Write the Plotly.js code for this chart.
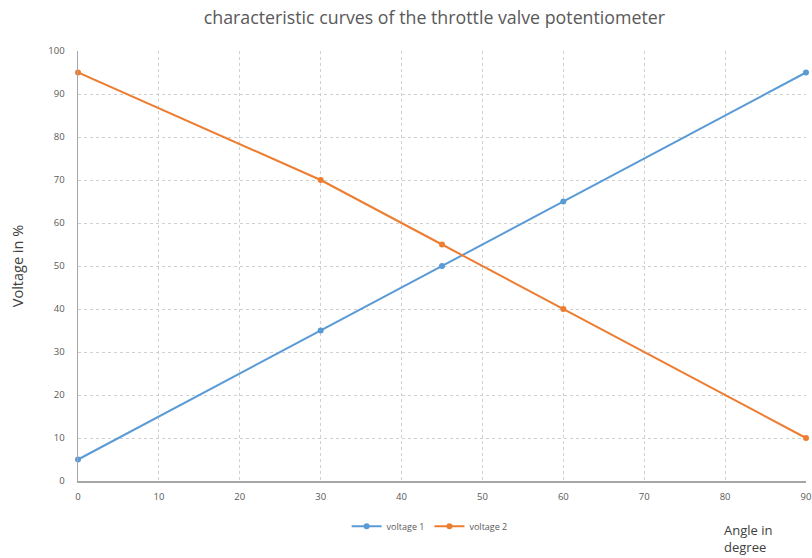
<!DOCTYPE html>
<html>
<head>
<meta charset="utf-8">
<script src="https://cdn.plot.ly/plotly-3.0.1.min.js"></script>
<style>html,body{margin:0;padding:0;background:#fff;}#chart{width:812px;height:558px;}</style>
</head>
<body>
<div id="chart"></div>
<script>
const angles = [0, 30, 45, 60, 90];
const voltage1 = [5, 35, 50, 65, 95];
const voltage2 = [95, 70, 55, 40, 10];
const xTicks = [0, 10, 20, 30, 40, 50, 60, 70, 80, 90];
const yTicks = [0, 10, 20, 30, 40, 50, 60, 70, 80, 90, 100];

const traces = [
  {x: angles, y: voltage1, name: 'voltage 1', mode: 'lines+markers', cliponaxis: false,
   line: {color: '#5B9BD5', width: 2}, marker: {color: '#5B9BD5', size: 6}},
  {x: angles, y: voltage2, name: 'voltage 2', mode: 'lines+markers', cliponaxis: false,
   line: {color: '#ED7D31', width: 2}, marker: {color: '#ED7D31', size: 6}}
];

const layout = {
  width: 812, height: 558,
  margin: {l: 78, r: 6, t: 51, b: 77},
  paper_bgcolor: '#fff', plot_bgcolor: '#fff',
  font: {family: 'Open Sans, sans-serif', color: '#595959'},
  title: {text: 'characteristic curves of the throttle valve potentiometer',
          font: {size: 17.8, color: '#595959'}, x: 0.535, xanchor: 'center', y: 0.968, yanchor: 'middle'},
  xaxis: {range: [0, 90], tickvals: xTicks, ticktext: xTicks.map(String),
          showgrid: true, gridcolor: '#d0d0d0', griddash: 'dot', gridwidth: 1,
          showline: true, linecolor: '#a6a6a6', linewidth: 1.5, zeroline: false,
          ticks: '', tickfont: {size: 9.5, color: '#595959'}, ticklabelstandoff: 6},
  yaxis: {range: [0, 100], tickvals: yTicks, ticktext: yTicks.map(String),
          showgrid: true, gridcolor: '#d0d0d0', griddash: 'dot', gridwidth: 1,
          showline: true, linecolor: '#a6a6a6', linewidth: 1.5, zeroline: false,
          ticks: '', tickfont: {size: 9.5, color: '#595959'}, ticklabelstandoff: 10,
          title: {text: 'Voltage in %', font: {size: 14.5, color: '#404040'}, standoff: 21}},
  showlegend: true,
  legend: {orientation: 'h', x: 0.483, xanchor: 'center', y: -0.105, yanchor: 'middle',
           font: {size: 9, color: '#595959'}, itemwidth: 30, tracegroupgap: 0},
  annotations: [
    {text: 'Angle in<br>degree', xref: 'paper', yref: 'paper', x: 0.884, y: -0.088,
     xanchor: 'left', yanchor: 'top', showarrow: false, align: 'left',
     font: {size: 13, color: '#404040'}}
  ]
};

Plotly.newPlot('chart', traces, layout, {displayModeBar: false, staticPlot: true});
</script>
</body>
</html>
